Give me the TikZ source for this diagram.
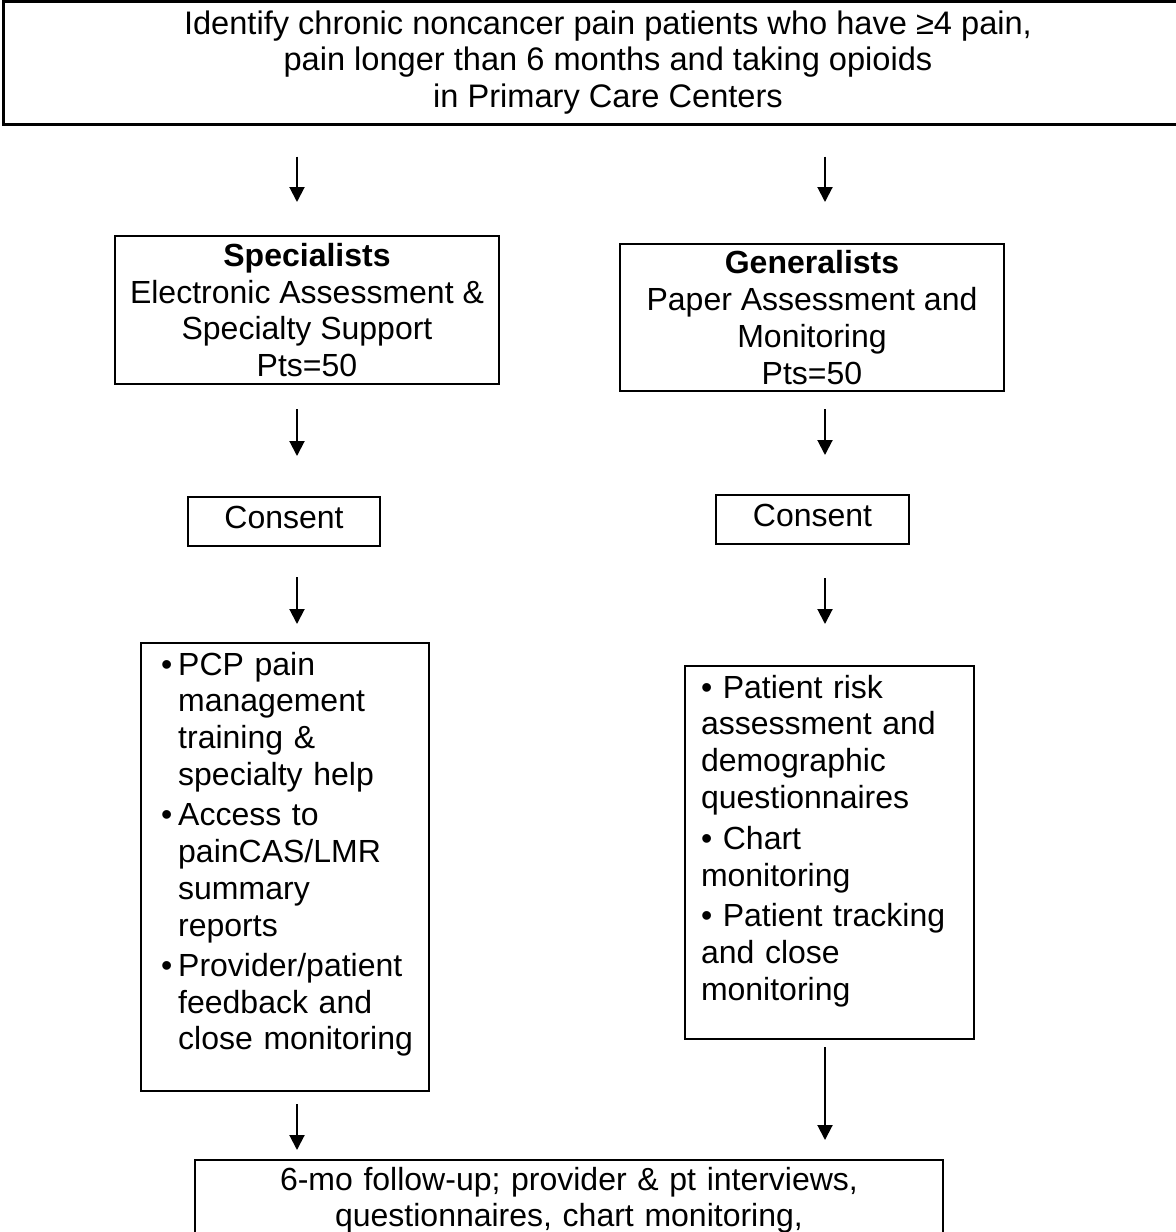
\documentclass[tikz,border=0pt]{standalone}
\usepackage{fontspec}
\setmainfont{Liberation Sans}
\usetikzlibrary{arrows.meta}

\begin{document}
\begin{tikzpicture}[
    x=0.5pt, y=-0.5pt,
    every node/.style={font=\fontsize{16pt}{18.4pt}\selectfont, inner sep=0pt},
    box/.style={draw, line width=1pt, align=center},
    listbox/.style={draw, line width=1pt, align=left, anchor=north west, text height=16pt},
    flow/.style={line width=1pt, -{Triangle[length=7.5pt, width=7.5pt]}}
  ]
    \useasboundingbox (0,0) rectangle (1175,1232);
    \coordinate (colL) at (297,0);
    \coordinate (colR) at (825,0);

    \node[box, line width=1.5pt, minimum width=605pt, minimum height=61.5pt,
      font=\fontsize{16.3pt}{18.4pt}\selectfont] (identify) at (608,62.5)
      {Identify chronic noncancer pain patients who have ≥4 pain,\\ pain longer than 6 months and taking opioids\\ in Primary Care Centers};
    \node[box, minimum width=192pt, minimum height=74pt] (spec) at (307,310)
      {\textbf{Specialists}\\ Electronic Assessment \&\\ Specialty Support\\ Pts=50};
    \node[box, minimum width=192pt, minimum height=73.5pt] (gen) at (812,317.5)
      {\textbf{Generalists}\\ Paper Assessment and\\ Monitoring\\ Pts=50};
    \node[box, minimum width=96pt, minimum height=24.5pt, text depth=4pt] (consentL) at (284,521.5) {Consent};
    \node[box, minimum width=96.5pt, minimum height=24.5pt, text depth=4pt] (consentR) at (812.5,519.5) {Consent};

    \node[listbox, text width=144pt, text depth=208pt] (listL) at (140,642) {%
      \begin{tabular}[t]{@{\hspace{10pt}}l@{\hspace{3pt}}l@{}}
        \textbullet & PCP pain\\
         & management\\
         & training \&\\
         & specialty help\\[1.7pt]
        \textbullet & Access to\\
         & painCAS/LMR\\
         & summary\\
         & reports\\[1.7pt]
        \textbullet & Provider/patient\\
         & feedback and\\
         & close monitoring
      \end{tabular}};
    \node[listbox, text width=144.5pt, text depth=170.5pt] (listR) at (684,665) {%
      \begin{tabular}[t]{@{\hspace{8pt}}l@{}}
        \textbullet{} Patient risk\\
        assessment and\\
        demographic\\
        questionnaires\\[2pt]
        \textbullet{} Chart\\
        monitoring\\[2pt]
        \textbullet{} Patient tracking\\
        and close\\
        monitoring
      \end{tabular}};

    \node[box, anchor=north, text width=374pt, text height=15pt, text depth=80pt] (followup) at (569,1159)
      {6-mo follow-up; provider \& pt interviews,\\ questionnaires, chart monitoring,};

    \draw[flow, shorten <=15.5pt, shorten >=16.5pt] (identify.south -| colL) -- (spec.north -| colL);
    \draw[flow, shorten <=15.5pt, shorten >=20.5pt] (identify.south -| colR) -- (gen.north -| colR);
    \draw[flow, shorten <=12pt, shorten >=20pt] (spec.south -| colL) -- (consentL.north -| colL);
    \draw[flow, shorten <=8.5pt, shorten >=19.5pt] (gen.south -| colR) -- (consentR.north -| colR);
    \draw[flow, shorten <=15pt, shorten >=9pt] (consentL.south -| colL) -- (listL.north -| colL);
    \draw[flow, shorten <=16.5pt, shorten >=20.5pt] (consentR.south -| colR) -- (listR.north -| colR);
    \draw[flow, shorten <=6pt, shorten >=4.5pt] (listL.south -| colL) -- (followup.north -| colL);
    \draw[flow, shorten <=3.5pt, shorten >=9.5pt] (listR.south -| colR) -- (followup.north -| colR);
  \end{tikzpicture}
\end{document}
